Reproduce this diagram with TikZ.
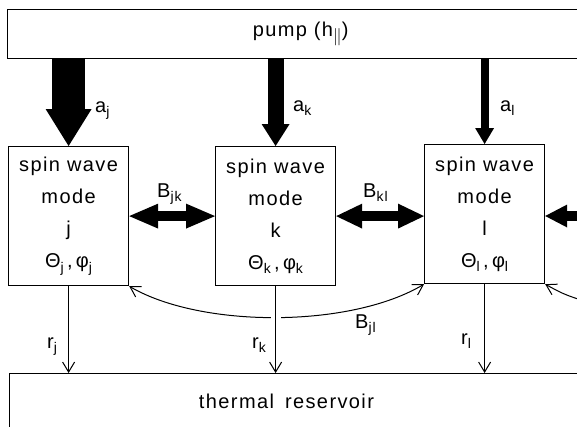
\documentclass[tikz,border=0pt]{standalone}
\usepackage{fontspec}
\setmainfont{Liberation Sans}[LetterSpace=7]
\usetikzlibrary{arrows.meta}
\newcommand\subs[1]{\raisebox{-4.5pt}{\fontsize{14}{14}\selectfont #1}}
\begin{document}
\begin{tikzpicture}[x=1pt,y=-1pt,
  modebox/.style={draw, line width=1.2pt, minimum width=120pt, minimum height=139pt,
    inner sep=0pt, anchor=north west, align=center, font=\fontsize{20}{32}\selectfont},
  bigbox/.style={draw, line width=1.2pt, inner sep=0pt, anchor=north west},
  lbl/.style={font=\fontsize{20}{20}\selectfont, anchor=base west, inner sep=0pt},
  thinarr/.style={line width=1pt, -{Straight Barb[length=10pt,width=12pt]}},
  boththin/.style={line width=1pt, {Straight Barb[length=10pt,width=12pt]}-{Straight Barb[length=10pt,width=12pt]}},
]
\useasboundingbox (0,0) rectangle (577,426);
\clip (0,0) rectangle (577,426);
\fill[white] (0,0) rectangle (577,426);

% pump and reservoir
\node[bigbox, minimum width=586pt, minimum height=49pt, font=\fontsize{20}{20}\selectfont]
  (pump) at (7,9) {pump (h\subs{\fontsize{16}{16}\selectfont$\parallel$})};
\node[bigbox, minimum width=620pt, minimum height=80pt] (res) at (9,373) {};
\node[font=\fontsize{20}{20}\selectfont, anchor=base, inner sep=0pt] (restext) at (286.5,408) {thermal\hspace{4pt} reservoir};

% mode boxes
\node[modebox] (j) at (8,146) {spin wave\\mode\\j\\Θ\subs{j}\,,\,φ\subs{j}};
\node[modebox] (k) at (215,146) {spin wave\\mode\\k\\Θ\subs{k}\,,\,φ\subs{k}};
\node[modebox] (l) at (424,144) {spin wave\\mode\\l\\Θ\subs{l}\,,\,φ\subs{l}};

% pump arrows
\draw[line width=33pt, -{Triangle[length=37pt,width=46pt,line width=0pt 0]}] (pump.south -| j.north) -- (j.north);
\draw[line width=16pt, -{Triangle[length=22pt,width=28pt,line width=0pt 0]}] (pump.south -| k.north) -- (k.north);
\draw[line width=8pt, -{Triangle[length=16pt,width=19pt,line width=0pt 0]}] (pump.south -| l.north) -- (l.north);
\node[lbl] (laj) at (95,112) {a\subs{j}};
\node[lbl] (lak) at (293,111) {a\subs{k}};
\node[lbl] (lal) at (500,111) {a\subs{l}};

% coupling arrows
\draw[line width=10pt, {Triangle[length=29pt,width=25pt,line width=0pt 0]}-{Triangle[length=29pt,width=25pt,line width=0pt 0]}] (j.east) -- (k.west);
\draw[line width=10pt, {Triangle[length=26pt,width=25pt,line width=0pt 0]}-{Triangle[length=26pt,width=25pt,line width=0pt 0]}] (k.east) -- (k.east -| l.west);
\coordinate (offr) at (600,216);
\draw[line width=10pt, -{Triangle[length=22pt,width=23pt,line width=0pt 0]}] (offr) -- (offr -| l.east);
\node[lbl] (lbjk) at (157,197) {B\subs{jk}};
\node[lbl] (lbkl) at (363,197) {B\subs{kl}};

% long-range coupling
\draw[boththin] (j.south east) .. controls +(72,42) and +(-74,44) .. (l.south west);
\coordinate (offbr) at (600,306);
\draw[line width=1pt, {Straight Barb[length=10pt,width=12pt]}-] (l.south east) .. controls (565,295) .. (offbr);
\node[lbl] (lbjl) at (355,328) {B\subs{jl}};
\fill[white] (270.5,308) rectangle (281,324);

% relaxation arrows
\draw[thinarr] (j.south) -- (j.south |- res.north);
\draw[thinarr] (k.south) -- (k.south |- res.north);
\draw[thinarr] (l.south) -- (l.south |- res.north);
\node[lbl] (lrj) at (47,348) {r\subs{j}};
\node[lbl] (lrk) at (252,348) {r\subs{k}};
\node[lbl] (lrl) at (461,344) {r\subs{l}};
\end{tikzpicture}
\end{document}
